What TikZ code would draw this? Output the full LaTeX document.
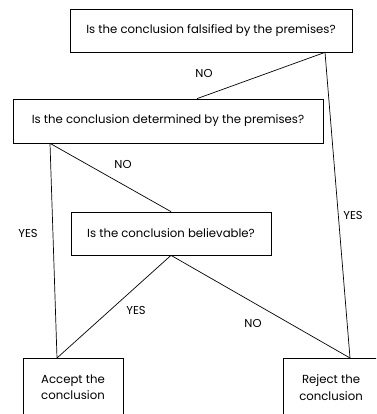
\documentclass[tikz,border=0pt]{standalone}
\usepackage{fontspec}
\setmainfont{Poppins}
\usetikzlibrary{calc}
\begin{document}
\begin{tikzpicture}[x=1pt,y=-1pt,
  box/.style={draw, line width=0.7pt, inner sep=0pt, align=center, font=\fontsize{11.7}{16.5}\selectfont},
  lbl/.style={font=\fontsize{11.5}{12}\selectfont, inner sep=0pt},
  conn/.style={line width=0.7pt}]
\useasboundingbox (0,0) rectangle (376,414);
\begin{scope}
\clip (0,0) rectangle (376,414);
\node[box, minimum width=282pt, minimum height=43pt] (b1) at (211,30.5) {Is the conclusion falsified by the premises?};
\node[box, minimum width=310pt, minimum height=44pt] (b2) at (168,121) {Is the conclusion determined by the premises?};
\node[box, minimum width=200pt, minimum height=43pt] (b3) at (171,233.5) {Is the conclusion believable?};
\node[box, minimum width=100pt, minimum height=58pt, anchor=north] (b4) at (73,358) {Accept the\\conclusion};
\node[box, minimum width=96pt, minimum height=58pt, anchor=north] (b5) at (331,358) {Reject the\\conclusion};
\coordinate (b1r) at ([xshift=114pt]b1.south);
\coordinate (b2t) at ([xshift=29pt]b2.north);
\coordinate (b2b) at ([xshift=-118pt]b2.south);
\coordinate (b4t) at ([xshift=-16pt]b4.north);
\coordinate (b5t) at ([xshift=19pt]b5.north);
\draw[conn] (b1r) -- (b2t);
\draw[conn] (b1r) -- (b5t);
\draw[conn] (b2b) -- (b4t);
\draw[conn] (b2b) -- (b3.north);
\draw[conn] (b3.south) -- (b4t);
\draw[conn] (b3.south) -- (b5t);
\end{scope}
\node[lbl] (l1) at (204,73) {NO};
\node[lbl] (l2) at (123,164) {NO};
\node[lbl] (l3) at (28,233) {YES};
\node[lbl] (l4) at (353,215) {YES};
\node[lbl] (l5) at (136,310) {YES};
\node[lbl] (l6) at (253,323) {NO};
\end{tikzpicture}
\end{document}
